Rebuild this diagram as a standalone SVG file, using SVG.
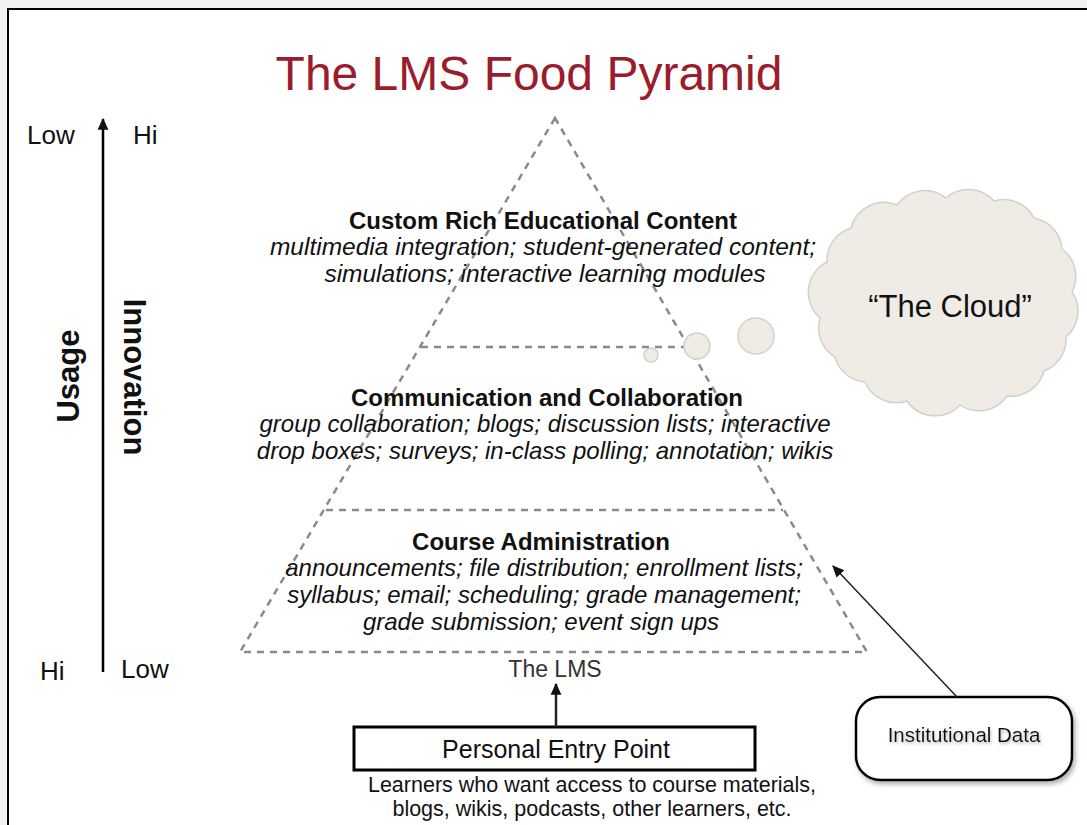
<svg xmlns="http://www.w3.org/2000/svg" width="1087" height="825" viewBox="0 0 1087 825">
  <defs>
    <style>
      .t { font-family: "Liberation Sans", Arial, sans-serif; fill: #111; }
      .head { font-size: 24px; font-weight: bold; text-anchor: middle; }
      .it { font-size: 24px; font-style: italic; text-anchor: middle; }
      .axis { font-size: 26px; }
      .vert { font-size: 31px; font-weight: bold; text-anchor: middle; }
      .dash { fill: none; stroke: #8a8a8a; stroke-width: 2.5; stroke-dasharray: 7 6; }
      .bubble { fill: #efece6; stroke: #d4d0c8; stroke-width: 1.5; }
    </style>
    <marker id="ahBig" viewBox="0 0 10 10" refX="9" refY="5" markerWidth="12" markerHeight="12" orient="auto" markerUnits="userSpaceOnUse">
      <path d="M0,0.5 L10,5 L0,9.5 z" fill="#111"/>
    </marker>
    <filter id="sh" x="-20%" y="-20%" width="140%" height="140%">
      <feDropShadow dx="2" dy="3" stdDeviation="2.5" flood-color="#777" flood-opacity="0.6"/>
    </filter>
    <filter id="tsh" x="-10%" y="-30%" width="120%" height="160%">
      <feDropShadow dx="1" dy="2" stdDeviation="1.5" flood-color="#888" flood-opacity="0.6"/>
    </filter>
  </defs>

  <rect x="0" y="0" width="1087" height="825" fill="#f2f2f2"/>
  <rect x="8" y="9" width="1100" height="840" fill="#fff" stroke="#000" stroke-width="2"/>

  <g id="title">
    <text class="t" x="529" y="90" font-size="48" text-anchor="middle" style="fill:#9b1c2c">The LMS Food Pyramid</text>
  </g>

  <g id="axis">
    <text class="t axis" x="27" y="144">Low</text>
    <text class="t axis" x="133" y="144">Hi</text>
    <text class="t axis" x="40" y="680">Hi</text>
    <text class="t axis" x="121" y="678">Low</text>
    <text class="t vert" transform="translate(79,376) rotate(-90)">Usage</text>
    <text class="t vert" transform="translate(124,377) rotate(90)">Innovation</text>
  </g>

  <g id="pyramid">
    <path class="dash" d="M555,118 L240,652 L867,652 Z"/>
    <line class="dash" x1="421" y1="347" x2="688" y2="347"/>
    <line class="dash" x1="326" y1="510" x2="783" y2="510"/>
  </g>

  <g id="cloud">
    <circle class="bubble" cx="651" cy="355" r="7"/>
    <circle class="bubble" cx="697" cy="346" r="13"/>
    <circle class="bubble" cx="756" cy="336" r="18"/>
    <path class="bubble" d="M820,318 A34,34 0 0 1 827,262 A34,34 0 0 1 851,228 A34,34 0 0 1 897,205 A34,34 0 0 1 946,198 A34,34 0 0 1 994,201 A34,34 0 0 1 1034,218 A34,34 0 0 1 1062,249 A34,34 0 0 1 1072,292 A34,34 0 0 1 1066,337 A34,34 0 0 1 1044,371 A34,34 0 0 1 1007,396 A34,34 0 0 1 960,405 A34,34 0 0 1 907,401 A34,34 0 0 1 865,382 A34,34 0 0 1 835,357 A34,34 0 0 1 820,318 Z"/>
    <text class="t" x="950" y="317" font-size="31" text-anchor="middle">“The Cloud”</text>
  </g>

  <g id="tier-top">
    <text class="t head" x="543" y="229" font-size="24.5">Custom Rich Educational Content</text>
    <text class="t it" x="543" y="255" style="font-size:24.5px">multimedia integration; student-generated content;</text>
    <text class="t it" x="545" y="282" style="font-size:24.5px">simulations; interactive learning modules</text>
  </g>

  <g id="tier-middle">
    <text class="t head" x="547" y="406">Communication and Collaboration</text>
    <text class="t it" x="545" y="432">group collaboration; blogs; discussion lists; interactive</text>
    <text class="t it" x="545" y="459">drop boxes; surveys; in-class polling; annotation; wikis</text>
  </g>

  <g id="tier-bottom">
    <text class="t head" x="541" y="550">Course Administration</text>
    <text class="t it" x="544" y="576">announcements; file distribution; enrollment lists;</text>
    <text class="t it" x="544" y="603">syllabus; email; scheduling; grade management;</text>
    <text class="t it" x="541" y="630">grade submission; event sign ups</text>
  </g>

  <g id="lms-label">
    <text class="t" x="555" y="677" font-size="23" text-anchor="middle" style="fill:#333">The LMS</text>
  </g>

  <g id="entry">
    <rect x="354" y="727" width="401" height="43" fill="#fff" stroke="#000" stroke-width="3"/>
    <text class="t" x="556" y="758" font-size="25" text-anchor="middle">Personal Entry Point</text>
    <text class="t" x="592" y="792" font-size="21.5" text-anchor="middle">Learners who want access to course materials,</text>
    <text class="t" x="592" y="816" font-size="21.5" text-anchor="middle">blogs, wikis, podcasts, other learners, etc.</text>
  </g>

  <g id="institutional">
    <rect x="856" y="697" width="216" height="83" rx="24" ry="24" fill="#fff" stroke="#000" stroke-width="2.5" filter="url(#sh)"/>
    <text class="t" x="964" y="742" font-size="20.5" text-anchor="middle" filter="url(#tsh)">Institutional Data</text>
  </g>

  <g id="connectors">
    <line x1="103" y1="672" x2="103" y2="119" stroke="#000" stroke-width="2.5" marker-end="url(#ahBig)"/>
    <line x1="556" y1="727" x2="556" y2="684" stroke="#222" stroke-width="2.5" marker-end="url(#ahBig)"/>
    <line x1="957" y1="697" x2="833" y2="566" stroke="#222" stroke-width="1.5" marker-end="url(#ahBig)"/>
  </g>
</svg>
